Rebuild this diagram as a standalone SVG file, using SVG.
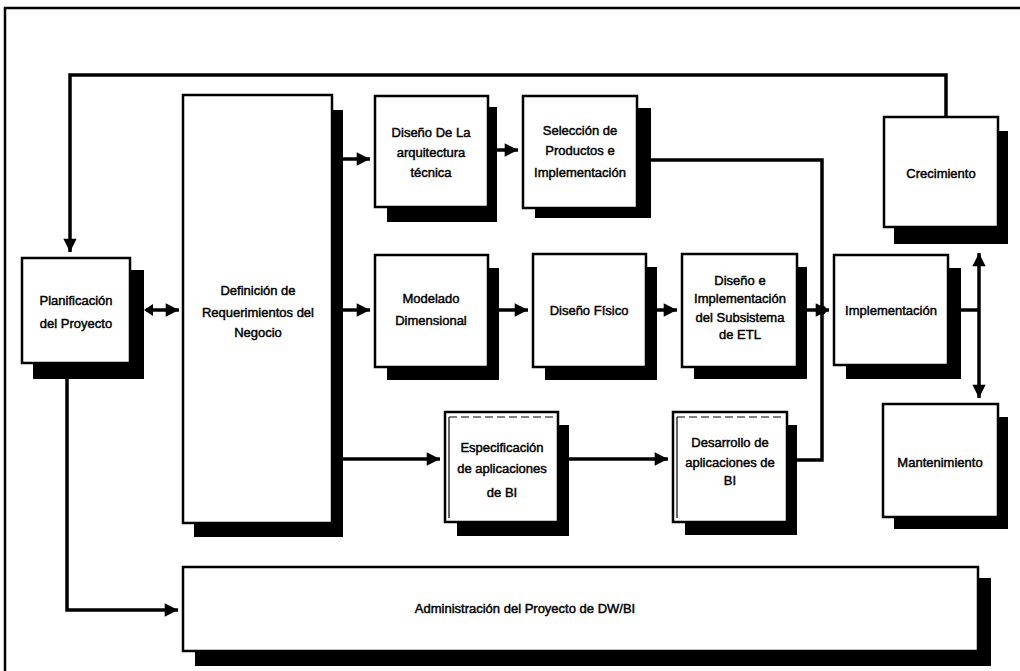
<svg xmlns="http://www.w3.org/2000/svg" width="1020" height="671" viewBox="0 0 1020 671">
<style>
.sh{fill:#000}
.bx{fill:#fff;stroke:#000;stroke-width:2.5}
.t{font-family:"Liberation Sans",Arial,sans-serif;font-size:13px;fill:#000;text-anchor:middle;stroke:#000;stroke-width:0.45}
.c{fill:none;stroke:#000;stroke-width:3.5}
.in{fill:none;stroke:#000;stroke-width:1.2}
</style>
<defs>
<marker id="ah" viewBox="0 0 10 10" refX="10" refY="5" markerWidth="4.4" markerHeight="3.8" orient="auto-start-reverse" markerUnits="strokeWidth">
<path d="M0,0 L10,5 L0,10 z" fill="#000"/>
</marker>
</defs>
<rect x="0" y="0" width="1020" height="671" fill="#fff"/>
<path d="M5,680 V8 H1030" fill="none" stroke="#000" stroke-width="2.5"/>

<g id="connectors">
<path class="c" d="M946,118 V75 H70 V252" marker-end="url(#ah)"/>
<path class="c" d="M146,310 H179" marker-end="url(#ah)"/>
<polygon points="144,310 153,304 153,316" fill="#000"/>
<path class="c" d="M67,379 V610 H178" marker-end="url(#ah)"/>
<path class="c" d="M343,159 H370" marker-end="url(#ah)"/>
<path class="c" d="M343,310 H370" marker-end="url(#ah)"/>
<path class="c" d="M343,459 H440" marker-end="url(#ah)"/>
<path class="c" d="M497,150 H518" marker-end="url(#ah)"/>
<path class="c" d="M651,160 H822 V460 H797"/>
<path class="c" d="M499,310 H528" marker-end="url(#ah)"/>
<path class="c" d="M657,310 H677" marker-end="url(#ah)"/>
<path class="c" d="M807,310 H829" marker-end="url(#ah)"/>
<circle cx="822" cy="310" r="4.5" fill="#000"/>
<path class="c" d="M569,459 H668" marker-end="url(#ah)"/>
<path class="c" d="M961,310 H979"/>
<path class="c" d="M979,253 V398" marker-start="url(#ah)" marker-end="url(#ah)"/>
</g>

<g id="planificacion">
<rect class="sh" x="33" y="270" width="111" height="109"/>
<rect class="bx" x="22" y="258" width="108" height="105"/>
<text class="t" x="76" y="305">Planificación</text>
<text class="t" x="76" y="328">del Proyecto</text>
</g>

<g id="definicion">
<rect class="sh" x="194" y="110" width="149" height="427"/>
<rect class="bx" x="183" y="95" width="149" height="428"/>
<text class="t" x="258" y="295">Definición de</text>
<text class="t" x="258" y="317">Requerimientos del</text>
<text class="t" x="258" y="337">Negocio</text>
</g>

<g id="arquitectura">
<rect class="sh" x="387" y="107" width="110" height="115"/>
<rect class="bx" x="375" y="96" width="113" height="111"/>
<text class="t" x="431" y="137">Diseño De La</text>
<text class="t" x="431" y="157">arquitectura</text>
<text class="t" x="431" y="177">técnica</text>
</g>

<g id="seleccion">
<rect class="sh" x="535" y="108" width="116" height="110"/>
<rect class="bx" x="523" y="96" width="114" height="112"/>
<text class="t" x="580" y="135">Selección de</text>
<text class="t" x="580" y="155">Productos e</text>
<text class="t" x="580" y="177">Implementación</text>
</g>

<g id="crecimiento">
<rect class="sh" x="894" y="131" width="114" height="113"/>
<rect class="bx" x="884" y="117" width="114" height="110"/>
<text class="t" x="941" y="178">Crecimiento</text>
</g>

<g id="modelado">
<rect class="sh" x="387" y="268" width="112" height="112"/>
<rect class="bx" x="375" y="255" width="113" height="112"/>
<text class="t" x="431" y="303">Modelado</text>
<text class="t" x="431" y="325">Dimensional</text>
</g>

<g id="fisico">
<rect class="sh" x="545" y="267" width="112" height="113"/>
<rect class="bx" x="533" y="254" width="113" height="113"/>
<text class="t" x="589" y="315">Diseño Físico</text>
</g>

<g id="etl">
<rect class="sh" x="694" y="267" width="113" height="112"/>
<rect class="bx" x="682" y="254" width="115" height="113"/>
<text class="t" x="740" y="285">Diseño e</text>
<text class="t" x="740" y="303">Implementación</text>
<text class="t" x="740" y="322">del Subsistema</text>
<text class="t" x="740" y="339">de ETL</text>
</g>

<g id="implementacion">
<rect class="sh" x="846" y="268" width="115" height="111"/>
<rect class="bx" x="834" y="255" width="114" height="110"/>
<text class="t" x="891" y="315">Implementación</text>
</g>

<g id="especificacion">
<rect class="sh" x="457" y="425" width="112" height="111"/>
<rect class="bx" x="445" y="412" width="113" height="110"/>
<path class="in" d="M449,417 H554" stroke-dasharray="8,4"/>
<path class="in" d="M449,417 V518"/>
<text class="t" x="502" y="452">Especificación</text>
<text class="t" x="502" y="473">de aplicaciones</text>
<text class="t" x="502" y="497">de BI</text>
</g>

<g id="desarrollo">
<rect class="sh" x="685" y="425" width="112" height="110"/>
<rect class="bx" x="673" y="412" width="114" height="110"/>
<path class="in" d="M677,417 H783" stroke-dasharray="8,4"/>
<path class="in" d="M677,417 V518"/>
<text class="t" x="730" y="447">Desarrollo de</text>
<text class="t" x="730" y="467">aplicaciones de</text>
<text class="t" x="730" y="485">BI</text>
</g>

<g id="mantenimiento">
<rect class="sh" x="894" y="417" width="114" height="112"/>
<rect class="bx" x="883" y="404" width="115" height="113"/>
<text class="t" x="940" y="467">Mantenimiento</text>
</g>

<g id="administracion">
<rect class="sh" x="195" y="578" width="796" height="88"/>
<rect class="bx" x="183" y="567" width="795" height="84"/>
<text class="t" x="525" y="613">Administración del Proyecto de DW/BI</text>
</g>
</svg>
